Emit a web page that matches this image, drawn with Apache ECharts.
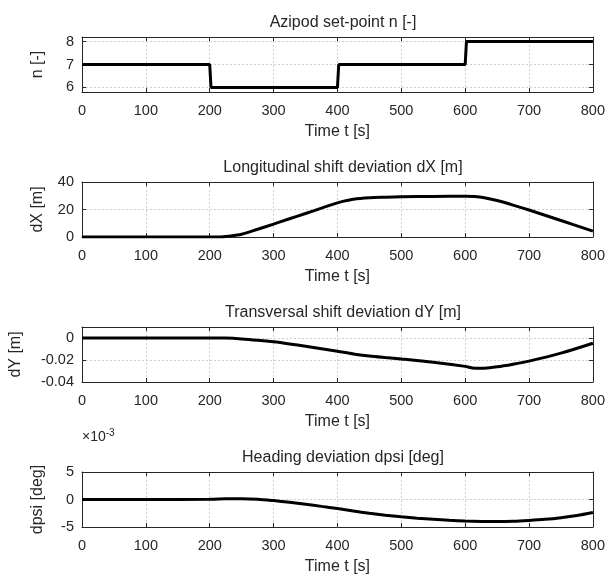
<!DOCTYPE html>
<html><head><meta charset="utf-8">
<script src="https://cdn.jsdelivr.net/npm/echarts@6/dist/echarts.min.js"></script>
<style>html,body{margin:0;padding:0;background:#fff}#c{width:608px;height:577px}</style>
</head><body><div id="c"></div>
<script>
// ---- data ----
const panelTitles = ['Azipod set-point n [-]', 'Longitudinal shift deviation dX [m]', 'Transversal shift deviation dY [m]', 'Heading deviation dpsi [deg]'];
const yNames = ['n [-]', 'dX [m]', 'dY [m]', 'dpsi [deg]'];
const xName = 'Time t [s]';
const xTicks = [0, 100, 200, 300, 400, 500, 600, 700, 800];

const nTime   = [0, 200, 202, 400, 402, 600, 602, 800];
const nValues = [7, 7, 6, 6, 7, 7, 8, 8];

const dxTime   = [0, 100, 200, 215, 230, 250, 275, 300, 325, 350, 375, 400, 410, 425, 450, 475, 500, 550, 600, 615, 630, 650, 675, 700, 750, 800];
const dxValues = [0, 0, 0, 0, 0.6, 2, 5.6, 9.4, 13.3, 17.1, 21, 24.8, 26.1, 27.5, 28.5, 28.9, 29.2, 29.5, 29.7, 29.5, 28.6, 26.5, 23.2, 19.6, 12, 4.3];

const dyTime   = [0, 100, 200, 225, 250, 275, 300, 325, 350, 375, 400, 425, 450, 475, 500, 550, 600, 615, 630, 650, 675, 700, 750, 800];
const dyValues = [0, 0, 0, -0.0001, -0.0008, -0.002, -0.0035, -0.0054, -0.0075, -0.0097, -0.012, -0.0145, -0.0163, -0.0177, -0.019, -0.022, -0.0258, -0.0275, -0.0274, -0.0262, -0.0238, -0.021, -0.0138, -0.0048];

// heading deviation in units of 1e-3 deg
const psiTime   = [0, 100, 200, 225, 250, 275, 300, 325, 350, 375, 400, 425, 450, 475, 500, 525, 550, 575, 600, 625, 650, 675, 700, 725, 750, 775, 800];
const psiValues = [0, 0, 0.05, 0.12, 0.15, 0.05, -0.2, -0.5, -0.85, -1.25, -1.65, -2.1, -2.5, -2.85, -3.15, -3.4, -3.6, -3.78, -3.9, -3.98, -4.0, -3.95, -3.8, -3.6, -3.3, -2.9, -2.35];

const yMin = [5.8, 0, -0.04, -5];
const yMax = [8.2, 40, 0.01, 5];
const yStep = [1, 20, 0.02, 5];
const psiScaleLabel = '×10';
const psiScaleExp = '-3';

// ---- build ----
const FONT = '"Liberation Sans", Arial, sans-serif';
const C = '#262626';
const GRIDC = '#cfcfcf';
const seriesData = [
  nTime.map((t, i) => [t, nValues[i]]),
  dxTime.map((t, i) => [t, dxValues[i]]),
  dyTime.map((t, i) => [t, dyValues[i]]),
  psiTime.map((t, i) => [t, psiValues[i]])
];
const nameGaps = [36, 36, 58, 36];
const grids = [], xAxes = [], yAxes = [], series = [], titles = [];
for (let k = 0; k < 4; k++) {
  const top = 37 + 145 * k;
  grids.push({ left: 82, right: 14, top: top, height: 55 });
  titles.push({ text: panelTitles[k], left: 338, textAlign: 'center', top: top - 27,
    textStyle: { fontFamily: FONT, fontSize: 16, fontWeight: 'normal', color: C } });
  xAxes.push({ gridIndex: k, type: 'value', min: xTicks[0], max: xTicks[xTicks.length - 1],
    interval: xTicks[1] - xTicks[0], position: 'bottom',
    name: xName, nameLocation: 'middle', nameGap: 32,
    nameTextStyle: { fontFamily: FONT, fontSize: 16, color: C },
    axisLine: { show: true, onZero: false, lineStyle: { color: C, width: 1 } },
    axisTick: { show: true, inside: true, length: 4, lineStyle: { color: C } },
    axisLabel: { margin: 11, fontSize: 14.5, color: C, fontFamily: FONT },
    splitLine: { show: true, lineStyle: { color: GRIDC, type: [2, 2], width: 1 } } });
  xAxes.push({ gridIndex: k, type: 'value', min: xTicks[0], max: xTicks[xTicks.length - 1],
    interval: xTicks[1] - xTicks[0], position: 'top',
    axisLine: { show: true, onZero: false, lineStyle: { color: C, width: 1 } },
    axisTick: { show: true, inside: true, length: 4, lineStyle: { color: C } },
    axisLabel: { show: false }, splitLine: { show: false } });
  const yBase = { gridIndex: k, type: 'value', min: yMin[k], max: yMax[k] };
  if (k === 0) { yBase.minInterval = yStep[k]; yBase.maxInterval = yStep[k]; }
  else { yBase.interval = yStep[k]; }
  yAxes.push(Object.assign({}, yBase, { position: 'left',
    name: yNames[k], nameLocation: 'middle', nameGap: nameGaps[k], nameRotate: 90,
    nameTextStyle: { fontFamily: FONT, fontSize: 16, color: C },
    axisLine: { show: true, onZero: false, lineStyle: { color: C, width: 1 } },
    axisTick: { show: true, inside: true, length: 4, lineStyle: { color: C } },
    axisLabel: { margin: 8, fontSize: 14.5, color: C, fontFamily: FONT,
      showMinLabel: k !== 0, showMaxLabel: !(k === 0 || k === 2),
      formatter: v => (Math.abs(v) < 1e-9 ? '0' : (k === 2 ? v.toFixed(2) : String(Math.round(v * 100) / 100))) },
    splitLine: { show: true, lineStyle: { color: GRIDC, type: [2, 2], width: 1 } } }));
  yAxes.push(Object.assign({}, yBase, { position: 'right',
    axisLine: { show: true, onZero: false, lineStyle: { color: C, width: 1 } },
    axisTick: { show: true, inside: true, length: 4, lineStyle: { color: C } },
    axisLabel: { show: false }, splitLine: { show: false } }));
  series.push({ type: 'line', xAxisIndex: 2 * k, yAxisIndex: 2 * k, data: seriesData[k],
    showSymbol: false, smooth: k === 0 ? false : 0.3, clip: true,
    lineStyle: { color: '#000', width: 3 }, animation: false });
}
titles.push({ text: '{a|' + psiScaleLabel + '}{b|' + psiScaleExp + '}', left: 77, top: 423,
  textStyle: { fontWeight: 'normal', rich: { a: { fontFamily: FONT, fontSize: 14, fontWeight: 'normal', color: C },
    b: { fontFamily: FONT, fontSize: 10, fontWeight: 'normal', color: C, padding: [0, 0, 9, 0] } } } });

const chart = echarts.init(document.getElementById('c'), null, { renderer: 'canvas' });
chart.setOption({ animation: false, backgroundColor: '#fff', title: titles, grid: grids,
  xAxis: xAxes, yAxis: yAxes, series: series });
</script></body></html>
